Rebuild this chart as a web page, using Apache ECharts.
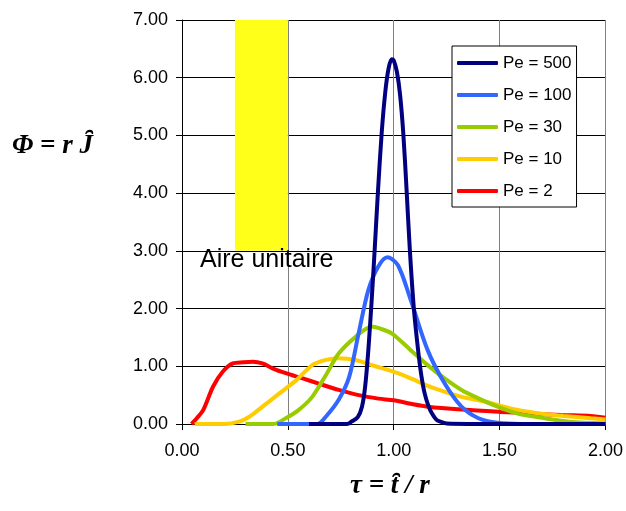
<!DOCTYPE html>
<html>
<head>
<meta charset="utf-8">
<script src="https://cdn.jsdelivr.net/npm/echarts@6/dist/echarts.min.js"></script>
<style>html,body{margin:0;padding:0;background:#fff}#c{width:626px;height:511px}</style>
</head>
<body>
<div id="c"></div>
<script>
// Data
var seriesNames = ['Pe = 500', 'Pe = 100', 'Pe = 30', 'Pe = 10', 'Pe = 2'];
var seriesColors = ['#000080', '#3366ff', '#99cc00', '#ffcc00', '#ff0000'];

var pe500X = [0.6, 0.78, 0.80, 0.83, 0.85, 0.865, 0.88, 0.895, 0.91, 0.925, 0.943, 0.96, 0.975, 0.99, 1.0, 1.015, 1.03, 1.045, 1.06, 1.076, 1.095, 1.115, 1.13, 1.146, 1.165, 1.18, 1.2, 1.22, 1.25, 1.5, 2.0];
var pe500Y = [0, 0, 0.04, 0.12, 0.30, 0.65, 1.28, 2.1, 3.02, 4.0, 5.04, 5.75, 6.15, 6.32, 6.3, 6.1, 5.7, 5.04, 4.1, 3.02, 2.0, 1.28, 0.85, 0.53, 0.3, 0.185, 0.08, 0.04, 0.01, 0, 0];

var pe100X = [0.45, 0.64, 0.68, 0.74, 0.79, 0.834, 0.88, 0.927, 0.97, 1.02, 1.08, 1.16, 1.24, 1.32, 1.40, 1.49, 1.6, 2.0];
var pe100Y = [0, 0, 0.13, 0.42, 0.82, 1.57, 2.32, 2.73, 2.89, 2.75, 2.15, 1.28, 0.705, 0.30, 0.10, 0.02, 0, 0];

var pe30X = [0.3, 0.43, 0.49, 0.55, 0.615, 0.68, 0.74, 0.82, 0.896, 0.93, 0.99, 1.08, 1.16, 1.24, 1.32, 1.40, 1.49, 1.58, 1.71, 1.83, 2.0];
var pe30Y = [0, 0, 0.10, 0.24, 0.47, 0.85, 1.22, 1.51, 1.69, 1.66, 1.57, 1.28, 1.02, 0.79, 0.59, 0.445, 0.30, 0.185, 0.10, 0.04, 0.01];

var pe10X = [0.06, 0.2, 0.27, 0.32, 0.38, 0.46, 0.54, 0.615, 0.68, 0.74, 0.82, 0.896, 0.96, 1.02, 1.08, 1.19, 1.32, 1.43, 1.55, 1.68, 1.80, 1.93, 2.0];
var pe10Y = [0, 0, 0.04, 0.13, 0.30, 0.53, 0.76, 1.02, 1.11, 1.14, 1.11, 1.02, 0.95, 0.88, 0.79, 0.62, 0.47, 0.39, 0.27, 0.185, 0.14, 0.10, 0.08];

var pe2X = [0.045, 0.07, 0.10, 0.147, 0.193, 0.24, 0.29, 0.334, 0.38, 0.43, 0.49, 0.57, 0.646, 0.74, 0.834, 0.927, 1.0, 1.08, 1.16, 1.32, 1.505, 1.63, 1.79, 1.93, 2.0];
var pe2Y = [0, 0.1, 0.24, 0.65, 0.91, 1.05, 1.07, 1.08, 1.05, 0.96, 0.88, 0.79, 0.70, 0.59, 0.50, 0.44, 0.41, 0.35, 0.30, 0.25, 0.21, 0.185, 0.156, 0.14, 0.11];

// "Aire unitaire" rectangle: tau from 0.25 to 0.50, Phi from 3 to 7
var areaX = [0.25, 0.50];
var areaY = [3, 7];

var xTicks = {min: 0, max: 2, interval: 0.5};
var yTicks = {min: 0, max: 7, interval: 1};

function zip(xs, ys) { return xs.map(function (x, i) { return [x, ys[i]]; }); }
var allX = [pe500X, pe100X, pe30X, pe10X, pe2X];
var allY = [pe500Y, pe100Y, pe30Y, pe10Y, pe2Y];

var chart = echarts.init(document.getElementById('c'));
var series = seriesNames.map(function (name, i) {
  return {
    name: name, type: 'line', data: zip(allX[i], allY[i]),
    showSymbol: false, smooth: 0.3,
    lineStyle: {color: seriesColors[i], width: 4},
    itemStyle: {color: seriesColors[i]},
    z: 10 - i
  };
});
series.push({
  name: 'area', type: 'line', data: [], silent: true,
  markArea: {
    silent: true,
    itemStyle: {color: '#ffff1a', opacity: 1},
    data: [[{coord: [areaX[0], areaY[0]]}, {coord: [areaX[1], areaY[1]]}]]
  }
});

var titleFont = 'italic bold 27px "Liberation Serif", "Times New Roman", serif';

chart.setOption({
  animation: false,
  backgroundColor: '#fff',
  grid: {left: 182, right: 17, top: 20, bottom: 87, containLabel: false},
  xAxis: {
    type: 'value', min: xTicks.min, max: xTicks.max, interval: xTicks.interval,
    axisLine: {show: true, onZero: false, lineStyle: {color: '#000', width: 1}},
    axisTick: {show: true, length: 6, lineStyle: {color: '#000'}},
    axisLabel: {fontFamily: 'Arial, Liberation Sans', fontSize: 18, color: '#000', margin: 18,
      formatter: function (v) { return v.toFixed(2); }},
    splitLine: {show: true, lineStyle: {color: '#808080', width: 1}}
  },
  yAxis: {
    type: 'value', min: yTicks.min, max: yTicks.max, interval: yTicks.interval,
    axisLine: {show: true, lineStyle: {color: '#000', width: 1}},
    axisTick: {show: true, length: 6, lineStyle: {color: '#000'}},
    axisLabel: {fontFamily: 'Arial, Liberation Sans', fontSize: 18, color: '#000', margin: 14,
      formatter: function (v) { return v.toFixed(2); }},
    splitLine: {show: true, lineStyle: {color: '#000', width: 1}}
  },
  legend: {
    data: seriesNames,
    orient: 'vertical', left: 452, top: 46,
    backgroundColor: '#fff', borderColor: '#000', borderWidth: 1,
    padding: [7, 5, 6, 5], itemGap: 12,
    itemWidth: 41, itemHeight: 4, icon: 'roundRect',
    textStyle: {fontFamily: 'Arial, Liberation Sans', fontSize: 17, color: '#000', lineHeight: 20}
  },
  graphic: [
    {type: 'text', left: 200, top: 248, z: 20,
      style: {text: 'Aire unitaire', font: '25px Arial, "Liberation Sans"', fill: '#000'}},
    {type: 'text', left: 12, top: 133, z: 20,
      style: {text: '\u03A6 = r J\u0311', font: titleFont, fill: '#000'}},
    {type: 'text', left: 350, top: 473, z: 20,
      style: {text: '\u03C4 = t\u0311 / r', font: titleFont, fill: '#000'}}
  ],
  series: series
});
</script>
</body>
</html>
